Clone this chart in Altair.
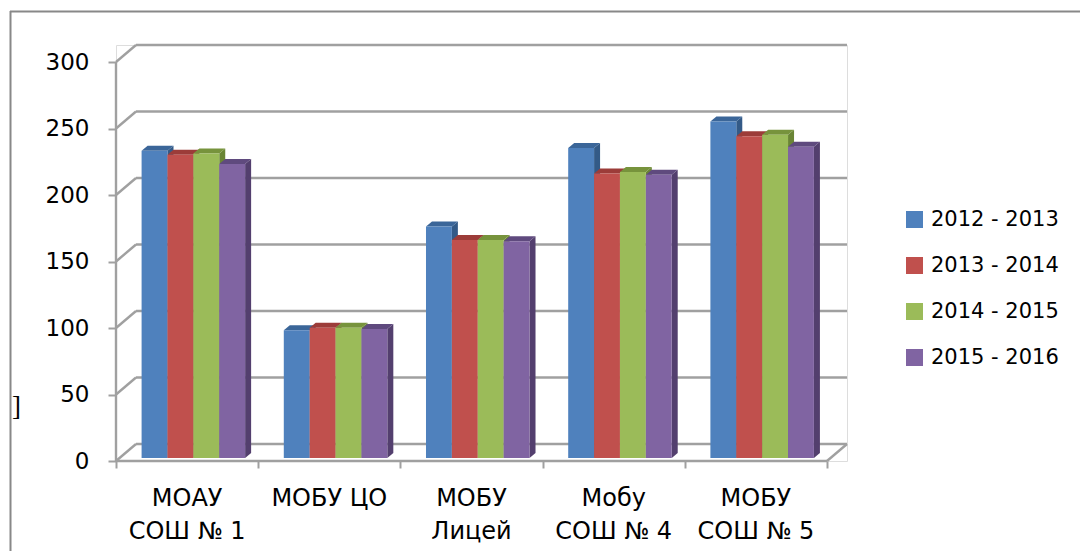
import altair as alt
import pandas as pd

# ---------------- data ----------------
categories = ["МОАУ\nСОШ № 1", "МОБУ ЦО", "МОБУ\nЛицей", "Мобу\nСОШ № 4", "МОБУ\nСОШ № 5"]
series = ["2012 - 2013", "2013 - 2014", "2014 - 2015", "2015 - 2016"]
v_2012_2013 = [231, 96, 174, 233, 253]
v_2013_2014 = [228, 98, 164, 214, 242]
v_2014_2015 = [229, 98, 164, 215, 243]
v_2015_2016 = [221, 97, 163, 213, 234]
values = [v_2012_2013, v_2013_2014, v_2014_2015, v_2015_2016]
y_ticks = [0, 50, 100, 150, 200, 250, 300]
x_ticks = [0, 1, 2, 3, 4, 5]

front_colors = ["#4f81bd", "#c0504d", "#9bbb59", "#8064a2"]
top_colors = ["#3b6699", "#9c3c39", "#77933c", "#5f4a7e"]
side_colors = ["#335a87", "#873331", "#6a8535", "#533f6e"]

# ---------------- geometry (style) ----------------
W, H = 731, 416
PX_CAT = 142.2            # pixels per category
K = 1.33                  # pixels per value unit
DXU = W / PX_CAT - 5      # depth of walls in category units
DYU = 17 / K              # depth of walls in value units
BAR_START, BAR_W = 0.18, 0.182
SD, SDY = 6 / PX_CAT, 5 / K
BASE = 3 / K
GRID = "#a0a0a0"
FONT = "DejaVu Sans"

xs = alt.Scale(domain=[0, 5 + DXU], nice=False, zero=False)
ys = alt.Scale(domain=[0, H / K], nice=False, zero=False)
x_axis = alt.Axis(values=x_ticks, labels=False, domain=False, grid=False,
                  tickSize=7, tickColor=GRID, tickWidth=2, title=None)
y_axis = alt.Axis(values=y_ticks, domain=False, grid=False, tickSize=8, tickColor=GRID,
                  tickWidth=2, labelFontSize=23, labelFont=FONT, labelColor="#000000",
                  labelPadding=19, title=None)

# ---------------- tables ----------------
front, sides, tops = [], [], []
for j, s in enumerate(series):
    for i, c in enumerate(categories):
        v = values[j][i]
        x0 = i + BAR_START + j * BAR_W
        x1 = x0 + BAR_W
        bid = f"{i}-{j}"
        front.append(dict(series=s, x=x0, x2=x1, y=BASE, y2=v + BASE))
        sides += [
            dict(id=bid, col=side_colors[j], x=x1, y=BASE, y2=v + BASE),
            dict(id=bid, col=side_colors[j], x=x1 + SD, y=BASE + SDY, y2=v + BASE + SDY),
        ]
        t = v + BASE
        tops += [
            dict(id=bid, col=top_colors[j], x=x0, y=t, y2=t),
            dict(id=bid, col=top_colors[j], x=x0 + SD, y=t, y2=t + SDY),
            dict(id=bid, col=top_colors[j], x=x1, y=t, y2=t + SDY),
            dict(id=bid, col=top_colors[j], x=x1 + SD, y=t + SDY, y2=t + SDY),
        ]

grid = []
for v in y_ticks:
    grid.append(dict(x=DXU, x2=5 + DXU, y=v + DYU, y2=v + DYU))
    grid.append(dict(x=0, x2=DXU, y=v, y2=v + DYU))
grid.append(dict(x=5, x2=5 + DXU, y=0, y2=DYU))   # floor right edge
grid.append(dict(x=0, x2=5, y=0, y2=0))           # floor front edge
grid.append(dict(x=0, x2=0, y=0, y2=300))         # front value axis line

labels = pd.DataFrame(dict(cat=categories, x=[i + 0.5 for i in range(5)]))

X = alt.X("x:Q", scale=xs, axis=x_axis)
Y = alt.Y("y:Q", scale=ys, axis=y_axis)

# ---------------- layers ----------------
grid_layer = alt.Chart(pd.DataFrame(grid)).mark_rule(
    color=GRID, strokeWidth=2.4
).encode(x=X, x2="x2:Q", y=Y, y2="y2:Q")

side_layer = alt.Chart(pd.DataFrame(sides)).mark_area(opacity=1, interpolate="linear").encode(
    x=X, y=Y, y2="y2:Q", detail="id:N", color=alt.Color("col:N", scale=None),
)

top_layer = alt.Chart(pd.DataFrame(tops)).mark_area(opacity=1, interpolate="linear").encode(
    x=X, y=Y, y2="y2:Q", detail="id:N", color=alt.Color("col:N", scale=None),
)

front_layer = alt.Chart(pd.DataFrame(front)).mark_rect(opacity=1).encode(
    x=X, x2="x2:Q", y=Y, y2="y2:Q",
    color=alt.Color("series:N", scale=alt.Scale(domain=series, range=front_colors),
                    legend=alt.Legend(
                        title=None, orient="none", legendX=788, legendY=164,
                        symbolType="square", symbolSize=289, symbolStrokeWidth=0,
                        labelFontSize=21, labelFont=FONT, labelColor="#000000",
                        labelOffset=6, rowPadding=24, padding=0)),
)

label_layer = alt.Chart(labels).mark_text(
    font=FONT, fontSize=24, color="#000000", align="center",
    baseline="alphabetic", lineBreak="\n", lineHeight=33,
).encode(x=X, y=alt.value(461), text="cat:N")

frame_v = alt.Chart(pd.DataFrame({"a": [0]})).mark_rule(color="#888888", strokeWidth=2).encode(
    x=alt.value(-105.5), y=alt.value(-34), y2=alt.value(H + 90)
)
frame_h = alt.Chart(pd.DataFrame({"a": [0]})).mark_rule(color="#888888", strokeWidth=2).encode(
    x=alt.value(-106), x2=alt.value(W + 233), y=alt.value(-33.5)
)
bracket = alt.Chart(pd.DataFrame({"t": ["]"]})).mark_text(
    font="Liberation Serif", fontSize=27, color="#000000", align="left", baseline="middle"
).encode(x=alt.value(-104), y=alt.value(362), text="t:N")

chart = alt.layer(
    grid_layer, side_layer, top_layer, front_layer, label_layer, frame_v, frame_h, bracket
).properties(
    width=W, height=H,
    autosize=alt.AutoSizeParams(type="none"),
    padding={"left": 108, "top": 37, "right": 233, "bottom": 90},
).configure_view(strokeWidth=0).configure(background="#ffffff")

chart.save("out.html", embed_options={"renderer": "svg", "actions": False})
